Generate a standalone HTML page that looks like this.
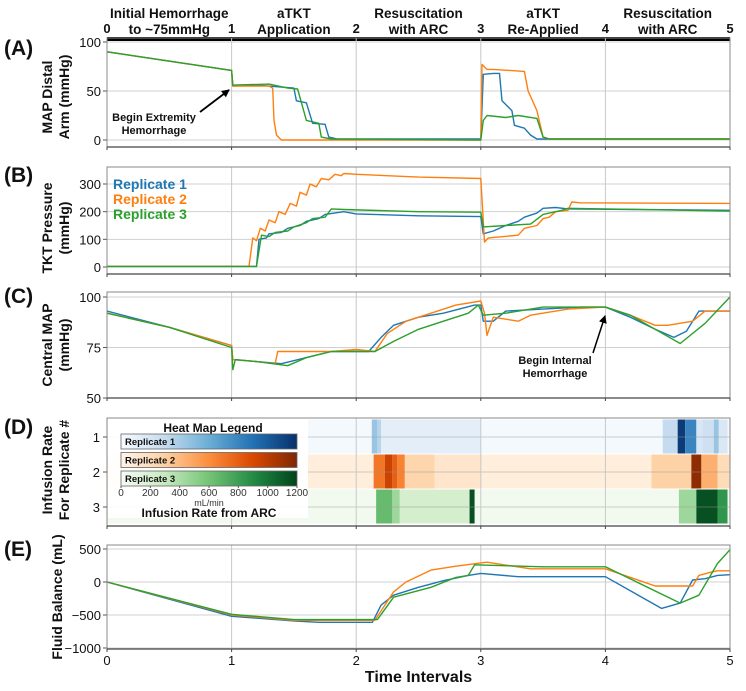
<!DOCTYPE html>
<html><head><meta charset="utf-8">
<style>
html,body{margin:0;padding:0;background:#fff;}
svg{display:block;font-family:"Liberation Sans",sans-serif;}
</style></head>
<body>
<svg id="chart" width="746" height="691" viewBox="0 0 746 691" xmlns="http://www.w3.org/2000/svg"></svg>
<script>
// ---------- DATA ----------
const phaseTicks = [0,1,2,3,4,5];
const phaseLine1 = ["Initial Hemorrhage","aTKT","Resuscitation","aTKT","Resuscitation"];
const phaseLine2 = ["to ~75mmHg","Application","with ARC","Re-Applied","with ARC"];
const xTicks = [0,1,2,3,4,5];

// Panel A: MAP distal arm
const tA1 = [0,1,1.01,1.2,1.4,1.5,1.52,1.6,1.65,1.75,1.78,1.85,3,3.02,3.1,3.15,3.17,3.25,3.27,3.35,3.4,3.45,5];
const vA1 = [90,71,55,56,54,53,40,38,17,16,3,1,1,67,68,68,40,30,15,12,5,1,1];
const tA2 = [0,1,1.01,1.3,1.33,1.34,1.36,1.4,3,3.01,3.05,3.1,3.35,3.38,3.45,3.5,3.55,5];
const vA2 = [90,71,55,55,53,20,5,0,0,77,72,72,70,50,30,3,1,1];
const tA3 = [0,1,1.01,1.3,1.45,1.53,1.6,1.7,1.72,1.8,3,3.02,3.05,3.2,3.3,3.45,3.5,3.55,5];
const vA3 = [90,71,56,57,53,52,20,17,3,1,0,20,25,23,25,22,3,1,1];
const yTicksA = [0,50,100];

// Panel B: TKT pressure
const tB1 = [0,1.2,1.22,1.28,1.3,1.4,1.45,1.55,1.6,1.7,1.75,1.9,2.0,2.5,3.0,3.02,3.1,3.2,3.3,3.35,3.45,3.5,3.6,3.7,5];
const vB1 = [2,2,100,105,120,125,140,150,165,175,190,200,192,185,182,120,130,150,165,180,195,212,215,210,205];
const tB2 = [0,1.14,1.17,1.2,1.23,1.27,1.3,1.35,1.38,1.43,1.47,1.52,1.55,1.6,1.63,1.68,1.72,1.78,1.83,1.88,1.9,2.0,2.5,3.0,3.03,3.06,3.3,3.35,3.45,3.5,3.55,3.6,3.7,3.73,3.8,5];
const vB2 = [2,2,105,95,140,130,170,160,200,190,230,220,270,260,300,290,320,315,335,330,338,335,325,320,90,105,115,140,150,175,180,200,205,235,232,230];
const tB3 = [0,1.2,1.24,1.3,1.35,1.45,1.5,1.6,1.65,1.75,1.8,1.9,2.5,3.0,3.02,3.2,3.4,3.5,3.6,3.65,3.7,5];
const vB3 = [2,2,115,110,125,130,145,160,175,180,210,208,200,198,145,150,155,190,200,205,212,202];
const yTicksB = [0,100,200,300];
const legendLabels = ["Replicate 1","Replicate 2","Replicate 3"];

// Panel C: central MAP
const tC1 = [0,0.5,1,1.01,1.2,1.4,1.6,1.8,2.1,2.2,2.3,2.5,2.7,2.95,3.0,3.02,3.1,3.2,3.5,3.8,4,4.2,4.4,4.55,4.65,4.75,5];
const vC1 = [93,85,76,69,68,67,70,73,73,80,86,90,92,96,96,88,88,93,94,95,95,90,84,80,83,93,93];
const tC2 = [0,0.5,1,1.01,1.2,1.35,1.37,1.6,1.8,2.0,2.15,2.25,2.4,2.6,2.8,3.0,3.03,3.05,3.1,3.3,3.4,3.7,4.0,4.2,4.4,4.5,4.7,4.8,5];
const vC2 = [92,85,76,69,68,67,73,73,73,74,73,82,88,92,96,98,92,81,90,88,91,94,95,91,86,86,88,93,93];
const tC3 = [0,0.5,1,1.01,1.03,1.2,1.45,1.6,1.8,2.15,2.3,2.5,2.7,2.9,2.98,3.02,3.2,3.5,4,4.2,4.4,4.6,4.8,5];
const vC3 = [92,85,75,64,69,68,66,70,73,73,78,84,88,92,96,91,92,95,95,91,84,77,87,100];
const yTicksC = [50,75,100];

// Panel D: infusion heat map (mL/min); segments start, end, value
const rowBg = [20,60,30];
const d1Start = [2.125,2.17,2.2,4.46,4.58,4.64,4.73,4.78,4.87,4.91];
const d1End   = [2.17,2.2,3.0,4.58,4.64,4.73,4.78,4.87,4.91,4.98];
const d1Val   = [450,350,120,300,1150,800,200,250,450,180];
const d2Start = [2.14,2.23,2.29,2.33,2.39,2.63,4.37,4.69,4.77,4.9];
const d2End   = [2.23,2.29,2.33,2.39,2.63,3.0,4.69,4.77,4.9,5];
const d2Val   = [700,950,800,650,250,130,280,1150,450,200];
const d3Start = [2.16,2.29,2.35,2.91,4.59,4.73,4.9];
const d3End   = [2.29,2.35,2.91,2.95,4.73,4.9,4.98];
const d3Val   = [650,450,220,1150,450,1150,850];
const cbTicks = [0,200,400,600,800,1000,1200];

// Panel E: fluid balance
const tE1 = [0,1,1.5,1.7,2.13,2.2,2.3,2.5,2.7,2.9,3,3.3,4,4.45,4.6,4.7,4.8,4.9,5];
const vE1 = [0,-520,-590,-610,-610,-350,-200,-80,20,100,130,80,80,-400,-320,30,50,100,110];
const tE2 = [0,1,1.5,2.15,2.3,2.4,2.6,2.8,3.0,3.05,3.4,4,4.4,4.7,4.75,4.85,4.9,5];
const vE2 = [0,-500,-580,-580,-150,0,180,240,290,300,200,200,-60,-60,100,150,170,170];
const tE3 = [0,1,1.5,2.17,2.3,2.6,2.8,2.9,2.95,3.5,4,4.6,4.75,4.9,5];
const vE3 = [0,-490,-570,-570,-230,-80,70,100,260,230,230,-320,-200,280,490];
const yTicksE = [-1000,-500,0,500];

// ---------- RENDER ----------
const NS = "http://www.w3.org/2000/svg";
const svg = document.getElementById("chart");
const X0 = 107, X1 = 730;
const xs = t => X0 + (X1 - X0) * t / 5;
const COL = ["#1f77b4","#ff7f0e","#2ca02c"];
function mk(tag, attrs, parent){
  const e = document.createElementNS(NS, tag);
  for (const k in attrs) e.setAttribute(k, attrs[k]);
  (parent||svg).appendChild(e);
  return e;
}
function txt(s, x, y, size, opts, parent){
  const e = mk("text", Object.assign({x:x, y:y, "font-size":size, fill:"#111"}, opts||{}), parent);
  e.textContent = s;
  return e;
}
function linY(v0, p0, v1, p1){ return v => p0 + (v - v0) * (p1 - p0) / (v1 - v0); }

const panels = [
  {id:"a", top:38, bot:147, y:linY(0,140,100,42), ticks:yTicksA, letter:"(A)", ly:55, title:["MAP Distal","Arm (mmHg)"], tcy:97,
   series:[[tA1,vA1],[tA2,vA2],[tA3,vA3]]},
  {id:"b", top:167, bot:274, y:linY(0,267,300,184), ticks:yTicksB, letter:"(B)", ly:182, title:["TKT Pressure","(mmHg)"], tcy:228,
   series:[[tB1,vB1],[tB2,vB2],[tB3,vB3]]},
  {id:"c", top:292, bot:398, y:linY(50,398,100,297), ticks:yTicksC, letter:"(C)", ly:303, title:["Central MAP","(mmHg)"], tcy:345,
   series:[[tC1,vC1],[tC2,vC2],[tC3,vC3]]},
  {id:"d", top:418, bot:526, y:null, ticks:[], letter:"(D)", ly:434, title:["Infusion Rate","For Replicate #"], tcy:470, series:[]},
  {id:"e", top:545, bot:649, y:linY(0,582,500,549), ticks:yTicksE, letter:"(E)", ly:556, title:["Fluid Balance (mL)"], tcy:597,
   series:[[tE1,vE1],[tE2,vE2],[tE3,vE3]]}
];

// colormaps
const cmaps = [
  ["#f7fbff","#c6dbef","#6baed6","#2171b5","#08306b"],
  ["#fff5eb","#fdd0a2","#fd8d3c","#d94801","#7f2704"],
  ["#f7fcf5","#c7e9c0","#74c476","#238b45","#00441b"]
];
function hex(h){return [1,3,5].map(i=>parseInt(h.substr(i,2),16));}
function cmap(r, v){
  const f = Math.max(0, Math.min(1, v/1200)) * 4;
  const i = Math.min(3, Math.floor(f)), u = f - i;
  const a = hex(cmaps[r][i]), b = hex(cmaps[r][i+1]);
  return "rgb(" + a.map((c,k)=>Math.round(c + (b[k]-c)*u)).join(",") + ")";
}

// top phase axis
const topBar = mk("rect", {x:X0, y:37, width:X1-X0, height:4, fill:"#000"});


phaseTicks.forEach(t=>{
  const e = txt(String(t), xs(t), 33, 13, {"text-anchor":"middle","font-weight":"bold"});
  
  
});
phaseLine1.forEach((s,i)=>{
  const cx = xs(i + 0.5);
  const e1 = txt(s, cx, 18, 13.5, {"text-anchor":"middle","font-weight":"bold"});
  
  
  const e2 = txt(phaseLine2[i], cx, 34, 13.5, {"text-anchor":"middle","font-weight":"bold"});
  
  
});

panels.forEach(p=>{
  const g = mk("g", {});
  
  
  // heatmap first
  if (p.id === "d") {
    const rowTop = 419, rowH = 35;
    const segs = [[d1Start,d1End,d1Val],[d2Start,d2End,d2Val],[d3Start,d3End,d3Val]];
    segs.forEach((sg, r)=>{
      const y0 = rowTop + r*rowH + 0.5;
      const bg = mk("rect", {x:X0, y:y0, width:X1-X0, height:rowH-1, fill:cmap(r,rowBg[r])}, g);
      
      
      sg[0].forEach((s,k)=>{
        const c = mk("rect", {x:xs(s), y:y0, width:xs(sg[1][k])-xs(s), height:rowH-1, fill:cmap(r,sg[2][k])}, g);
        
        
      });
      const lab = txt(String(r+1), 100, y0 + rowH/2 + 5, 13, {"text-anchor":"end"}, g);
      
      
      mk("line", {x1:X0, x2:X1, y1:y0+rowH/2, y2:y0+rowH/2, stroke:"#999", "stroke-width":0.7, opacity:0.6}, g);
      mk("line", {x1:X0-4, x2:X0, y1:y0+rowH/2, y2:y0+rowH/2, stroke:"#555"}, g);
    });
  }
  // grid
  p.ticks.forEach(v=>{
    const y = p.y(v);
    mk("line", {x1:X0, x2:X1, y1:y, y2:y, stroke:"#d0d0d0", "stroke-width":1}, g);
    mk("line", {x1:X0-4, x2:X0, y1:y, y2:y, stroke:"#555"}, g);
    const e = txt(v < 0 ? "\u2212" + Math.abs(v) : String(v), X0-6, y+5, 13, {"text-anchor":"end"}, g);
    
    
  });
  xTicks.slice(1,5).forEach(t=>{
    mk("line", {x1:xs(t), x2:xs(t), y1:p.top, y2:p.bot, stroke:"#c8c8c8", "stroke-width":1}, g);
  });
  // series
  p.series.forEach((s, i)=>{
    const d = s[0].map((t,k)=>(k?"L":"M") + xs(t).toFixed(1) + "," + p.y(s[1][k]).toFixed(1)).join("");
    const path = mk("path", {d:d, fill:"none", stroke:COL[i], "stroke-width":1.4, "stroke-linejoin":"round"}, g);
    
    
  });
  // frame
  mk("rect", {x:X0, y:p.top, width:X1-X0, height:p.bot-p.top, fill:"none", stroke:"#888", "stroke-width":1}, g);
  mk("line", {x1:X0, x2:X1, y1:p.bot, y2:p.bot, stroke:"#444", "stroke-width":1.2}, g);
  xTicks.forEach(t=>mk("line", {x1:xs(t), x2:xs(t), y1:p.bot, y2:p.bot+3, stroke:"#444"}, g));
  // letter
  const L = txt(p.letter, 4, p.ly, 21, {"font-weight":"bold"}, g);
  
  
  // y title
  const n = p.title.length;
  p.title.forEach((s, k)=>{
    const x = n === 1 ? 62 : 52 + k*17;
    const e = txt(s, 0, 0, 14, {"text-anchor":"middle","font-weight":"bold", transform:"translate(" + x + "," + p.tcy + ") rotate(-90)"}, g);
    
    
  });
});

// legend in panel B
legendLabels.forEach((s,i)=>{
  const e = txt(s, 113, 189 + i*15, 14, {"font-weight":"bold", fill:COL[i]});
  
  
});

// heat map legend
const lg = mk("g", {});


mk("rect", {x:108, y:419, width:200, height:99, fill:"#fff", opacity:0.92}, lg);
txt("Heat Map Legend", 213, 432, 12, {"text-anchor":"middle","font-weight":"bold"}, lg);
const defs = mk("defs", {});
[0,1,2].forEach(r=>{
  const gr = mk("linearGradient", {id:"cg"+r, x1:0, x2:1, y1:0, y2:0}, defs);
  cmaps[r].forEach((c,k)=>mk("stop", {offset:(k/4), "stop-color":c}, gr));
  const by = 434 + r*18.5;
  const bar = mk("rect", {x:121, y:by, width:176, height:15, fill:"url(#cg"+r+")", stroke:"#666", "stroke-width":0.8}, lg);
  
  
  txt(legendLabels[r], 125, by + 11, 9.5, {"font-weight":"bold"}, lg);
});
const cbx = v => 121 + 176 * v / 1200;
cbTicks.forEach(v=>{
  mk("line", {x1:cbx(v), x2:cbx(v), y1:486, y2:488, stroke:"#555"}, lg);
  const e = txt(String(v), cbx(v), 496, 10, {"text-anchor":"middle", fill:"#333"}, lg);
  
  
});
txt("mL/min", 209, 506, 9, {"text-anchor":"middle", fill:"#333"}, lg);
txt("Infusion Rate from ARC", 209, 517, 12, {"text-anchor":"middle","font-weight":"bold"}, lg);

// bottom x axis labels
xTicks.forEach(t=>{
  const e = txt(String(t), xs(t), 665, 13, {"text-anchor":"middle"});
  
  
});
const xt = txt("Time Intervals", xs(2.5), 682, 16, {"text-anchor":"middle","font-weight":"bold"});



// annotations
const marker = mk("marker", {id:"ah", markerWidth:8, markerHeight:8, refX:7, refY:4, orient:"auto", markerUnits:"userSpaceOnUse"}, defs);
mk("path", {d:"M0,0 L8,4 L0,8 Z", fill:"#000"}, marker);
const a1 = mk("line", {x1:200, y1:112, x2:229, y2:90, stroke:"#000", "stroke-width":1.8, "marker-end":"url(#ah)"});


const n1 = txt("Begin Extremity", 154, 121, 11, {"text-anchor":"middle","font-weight":"bold"});


txt("Hemorrhage", 154, 134, 11, {"text-anchor":"middle","font-weight":"bold"});
const a2 = mk("line", {x1:593, y1:353, x2:605, y2:316, stroke:"#000", "stroke-width":1.5, "marker-end":"url(#ah)"});


const n2 = txt("Begin Internal", 555, 364, 11, {"text-anchor":"middle","font-weight":"bold"});


txt("Hemorrhage", 555, 377, 11, {"text-anchor":"middle","font-weight":"bold"});
</script>
</body></html>
